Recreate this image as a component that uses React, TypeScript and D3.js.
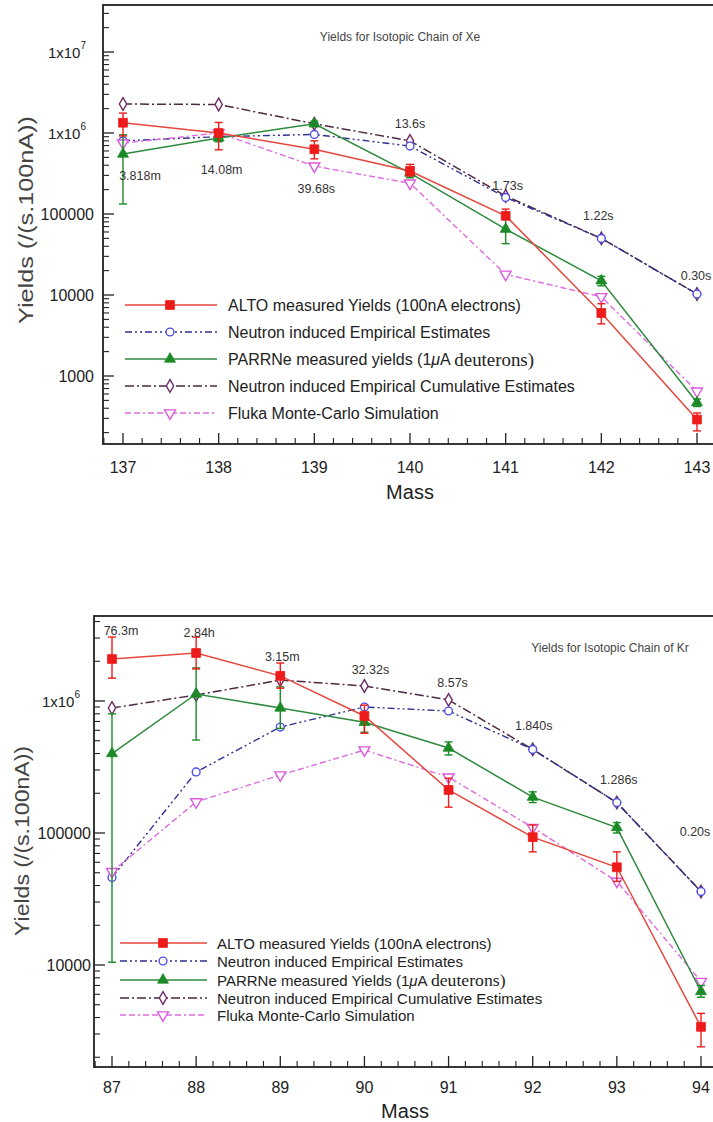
import React, { useEffect } from "react";
import * as d3 from "d3";

// ---------------- Xe chain (top chart) ----------------
const xeMass = [137, 138, 139, 140, 141, 142, 143];
const xeAlto = [1.34e6, 1.0e6, 6.3e5, 3.4e5, 9.5e4, 6.0e3, 290];
const xeAltoLo = [0.92e6, 0.62e6, 4.8e5, 2.95e5, 8.7e4, 4.4e3, 210];
const xeAltoHi = [1.76e6, 1.35e6, 8.0e5, 4.1e5, 1.15e5, 7.8e3, 350];
const xeNeutron = [8.0e5, 9.0e5, 9.6e5, 6.9e5, 1.6e5, 5.0e4, 1.03e4];
const xeParrne = [5.5e5, 8.7e5, 1.3e6, 3.2e5, 6.5e4, 1.5e4, 470];
const xeParrneLo = [1.33e5, 7.8e5, 1.2e6, 2.8e5, 4.3e4, 1.3e4, 420];
const xeParrneHi = [9.5e5, 9.6e5, 1.4e6, 3.7e5, 9.5e4, 1.7e4, 520];
const xeCumulative = [2.28e6, 2.25e6, 1.3e6, 8.0e5, 1.67e5, 5.0e4, 1.03e4];
const xeFluka = [7.5e5, 1.0e6, 3.9e5, 2.4e5, 1.8e4, 9.5e3, 650];
const xeHalfLives = ["3.818m", "14.08m", "39.68s", "13.6s", "1.73s", "1.22s", "0.30s"];
const xeYTicks = [1e3, 1e4, 1e5, 1e6, 1e7];
const xeLegend = [
  "ALTO measured Yields (100nA electrons)",
  "Neutron induced Empirical Estimates",
  "PARRNe measured yields (1μA deuterons)",
  "Neutron induced Empirical Cumulative Estimates",
  "Fluka Monte-Carlo Simulation",
];

// ---------------- Kr chain (bottom chart) ----------------
const krMass = [87, 88, 89, 90, 91, 92, 93, 94];
const krAlto = [2.08e6, 2.31e6, 1.55e6, 7.7e5, 2.12e5, 9.3e4, 5.5e4, 3.4e3];
const krAltoLo = [1.49e6, 1.75e6, 1.25e6, 5.7e5, 1.57e5, 7.2e4, 4.3e4, 2.4e3];
const krAltoHi = [3.05e6, 3.05e6, 1.94e6, 9.3e5, 2.6e5, 1.15e5, 7.2e4, 4.3e3];
const krNeutron = [4.6e4, 2.9e5, 6.35e5, 9.0e5, 8.4e5, 4.3e5, 1.7e5, 3.6e4];
const krParrne = [4.0e5, 1.13e6, 8.85e5, 6.9e5, 4.4e5, 1.87e5, 1.1e5, 6.3e3];
const krParrneLo = [1.05e4, 5.06e5, 6.2e5, 5.8e5, 3.9e5, 1.7e5, 1.0e5, 5.7e3];
const krParrneHi = [8.0e5, 1.78e6, 1.28e6, 8.1e5, 4.9e5, 2.05e5, 1.2e5, 7.0e3];
const krCumulative = [8.85e5, 1.11e6, 1.44e6, 1.3e6, 1.02e6, 4.3e5, 1.7e5, 3.6e4];
const krFluka = [5.1e4, 1.72e5, 2.75e5, 4.25e5, 2.65e5, 1.1e5, 4.3e4, 7.5e3];
const krHalfLives = ["76.3m", "2.84h", "3.15m", "32.32s", "8.57s", "1.840s", "1.286s", "0.20s"];
const krYTicks = [1e4, 1e5, 1e6];
const krLegend = [
  "ALTO measured Yields (100nA electrons)",
  "Neutron induced Empirical Estimates",
  "PARRNe measured Yields (1μA deuterons)",
  "Neutron induced Empirical Cumulative Estimates",
  "Fluka Monte-Carlo Simulation",
];

// ---------------- styles ----------------
const STYLES = {
  alto: { line: "#e5483e", mark: "#ee1b1b", dash: "", marker: "square", width: 1.5 },
  neutron: { line: "#303090", mark: "#4d4de6", dash: "7,3,2,3,2,3", marker: "circle", width: 1.4 },
  parrne: { line: "#2d8a3c", mark: "#1b8a26", dash: "", marker: "triangle", width: 1.5 },
  cumulative: { line: "#4d2840", mark: "#6e2a6a", dash: "9,3,2,3", marker: "diamond", width: 1.5 },
  fluka: { line: "#e06ae0", mark: "#dc5adc", dash: "6,3,6,3,2,3", marker: "triangleDown", width: 1.4 },
};
const LEGEND_KEYS = ["alto", "neutron", "parrne", "cumulative", "fluka"];
const DRAW_ORDER = ["cumulative", "neutron", "fluka", "parrne", "alto"];

const FONT = "'Liberation Sans', Arial, Helvetica, sans-serif";

const symPath = (kind: string) => {
  switch (kind) {
    case "square":
      return d3.symbol().type(d3.symbolSquare).size(78)() as string;
    case "circle":
      return d3.symbol().type(d3.symbolCircle).size(48)() as string;
    case "triangle":
      return d3.symbol().type(d3.symbolTriangle).size(52)() as string;
    case "triangleDown":
      return d3.symbol().type(d3.symbolTriangle).size(52)() as string;
    case "diamond":
      return d3.symbol().type(d3.symbolDiamond).size(46)() as string;
  }
  return "";
};

const Marker = ({ kind, x, y, color }: any) => {
  const filled = kind === "square" || kind === "triangle";
  const rot = kind === "triangleDown" ? " rotate(180)" : "";
  return (
    <path
      d={symPath(kind)}
      transform={`translate(${x},${y})${rot}`}
      fill={filled ? color : "#fff"}
      stroke={color}
      strokeWidth={filled ? 0.8 : 1.4}
    />
  );
};

const LegendLabel = ({ text, x, y, size }: any) => {
  const idx = text.indexOf("(1μA");
  if (idx < 0) {
    return (
      <text x={x} y={y} fontSize={size} fontFamily={FONT} fill="#222" dominantBaseline="central">
        {text}
      </text>
    );
  }
  return (
    <text x={x} y={y} fontSize={size} fontFamily={FONT} fill="#222" dominantBaseline="central">
      {text.slice(0, idx) + "(1"}
      <tspan fontStyle="italic">μ</tspan>
      {"A "}
      <tspan fontFamily="'Liberation Serif', 'Times New Roman', serif" fontSize={size * 1.18}>
        {text.slice(idx + 5)}
      </tspan>
    </text>
  );
};

const Chart = ({ c }: any) => {
  const x = d3.scaleLinear().domain(c.xDomain).range(c.xRange);
  const y = d3.scaleLog().domain(c.yDomain).range(c.yRange);
  const f = c.frame;

  const xLo = x.invert(f.left);
  const xHi = x.invert(Math.min(f.right, 713));
  const xMinor = d3
    .range(Math.ceil(xLo * 5), Math.floor(xHi * 5) + 1)
    .filter((k) => k % 5 !== 0)
    .map((k) => k / 5);

  const vBot = y.invert(f.bottom);
  const vTop = y.invert(f.top);
  const yMinor: number[] = [];
  for (let e = Math.floor(Math.log10(vBot)); e <= Math.ceil(Math.log10(vTop)); e++) {
    for (let m = 2; m <= 9; m++) {
      const v = m * Math.pow(10, e);
      if (v > vBot && v < vTop) yMinor.push(v);
    }
  }

  const line = d3
    .line<[number, number]>()
    .x((d) => x(d[0]))
    .y((d) => y(d[1]));

  const series: any = {
    alto: { v: c.alto, lo: c.altoLo, hi: c.altoHi },
    neutron: { v: c.neutron },
    parrne: { v: c.parrne, lo: c.parrneLo, hi: c.parrneHi },
    cumulative: { v: c.cumulative },
    fluka: { v: c.fluka },
  };

  const L = c.legend;

  return (
    <g>
      {/* frame */}
      <rect x={f.left} y={f.top} width={f.right - f.left} height={f.bottom - f.top} fill="none" stroke="#222" strokeWidth={1.8} />

      {/* x ticks */}
      {c.mass.map((m: number) => (
        <line key={"xm" + m} x1={x(m)} x2={x(m)} y1={f.bottom} y2={f.bottom - 11} stroke="#222" strokeWidth={1.3} />
      ))}
      {xMinor.map((m) => (
        <line key={"xn" + m} x1={x(m)} x2={x(m)} y1={f.bottom} y2={f.bottom - 6} stroke="#222" strokeWidth={1.1} />
      ))}
      {c.mass.map((m: number) => (
        <text key={"xl" + m} x={x(m)} y={c.xTickY} textAnchor="middle" dominantBaseline="central" fontSize={16} fontFamily={FONT} fill="#222">
          {m}
        </text>
      ))}
      <text x={c.xLabel[0]} y={c.xLabel[1]} textAnchor="middle" dominantBaseline="central" fontSize={20} fontFamily={FONT} fill="#222">
        Mass
      </text>

      {/* y ticks */}
      {c.yTicks.map((v: number) => (
        <line key={"ym" + v} x1={f.left} x2={f.left + 11} y1={y(v)} y2={y(v)} stroke="#222" strokeWidth={1.3} />
      ))}
      {yMinor.map((v) => (
        <line key={"yn" + v} x1={f.left} x2={f.left + 6} y1={y(v)} y2={y(v)} stroke="#222" strokeWidth={1.1} />
      ))}
      {c.yTicks.map((v: number) => {
        const e = Math.round(Math.log10(v));
        if (v >= 1e6) {
          return (
            <text key={"yl" + v} x={c.sciLabelX} y={y(v)} textAnchor="end" dominantBaseline="central" fontSize={15} fontFamily={FONT} fill="#222">
              1x10
              <tspan fontSize={10} dy={-7}>
                {e}
              </tspan>
            </text>
          );
        }
        return (
          <text key={"yl" + v} x={c.yLabelX} y={y(v)} textAnchor="end" dominantBaseline="central" fontSize={16} fontFamily={FONT} fill="#222">
            {String(v)}
          </text>
        );
      })}
      <text
        transform={`translate(${c.yTitle[0]},${c.yTitle[1]}) rotate(-90)`}
        textAnchor="middle"
        dominantBaseline="central"
        fontSize={20}
        fontFamily={FONT}
        fill="#444"
        textLength={c.yTitle[2]}
        lengthAdjust="spacingAndGlyphs"
      >
        Yields (/(s.100nA))
      </text>

      {/* title */}
      <text x={c.title[0]} y={c.title[1]} textAnchor="middle" dominantBaseline="central" fontSize={12} fontFamily={FONT} fill="#444">
        {c.titleText}
      </text>

      {/* series */}
      {DRAW_ORDER.map((key) => {
        const s = series[key];
        const st = (STYLES as any)[key];
        const pts: [number, number][] = c.mass.map((m: number, i: number) => [m, s.v[i]]);
        return (
          <g key={key}>
            <path d={line(pts) as string} fill="none" stroke={st.line} strokeWidth={st.width} strokeDasharray={st.dash || undefined} />
            {s.lo &&
              c.mass.map((m: number, i: number) => {
                const xx = x(m);
                const y1 = y(s.lo[i]);
                const y2 = y(s.hi[i]);
                return (
                  <g key={"e" + m} stroke={st.mark} strokeWidth={1.4}>
                    <line x1={xx} x2={xx} y1={y1} y2={y2} />
                    <line x1={xx - 4} x2={xx + 4} y1={y1} y2={y1} />
                    <line x1={xx - 4} x2={xx + 4} y1={y2} y2={y2} />
                  </g>
                );
              })}
            {pts.map((p, i) => (
              <Marker key={i} kind={st.marker} x={x(p[0])} y={y(p[1])} color={st.mark} />
            ))}
          </g>
        );
      })}

      {/* half-life labels */}
      {c.halfLives.map((t: string, i: number) => (
        <text
          key={"hl" + i}
          x={x(c.mass[i]) + c.hlOffsets[i][0]}
          y={y(c.cumulative[i]) + c.hlOffsets[i][1]}
          textAnchor="middle"
          dominantBaseline="central"
          fontSize={12.5}
          fontFamily={FONT}
          fill="#333"
        >
          {t}
        </text>
      ))}

      {/* legend */}
      {LEGEND_KEYS.map((key, i) => {
        const st = (STYLES as any)[key];
        const yy = L.rows[i];
        return (
          <g key={"lg" + key}>
            <line x1={L.x0} x2={L.x1} y1={yy} y2={yy} stroke={st.line} strokeWidth={st.width} strokeDasharray={st.dash || undefined} />
            <Marker kind={st.marker} x={L.xm} y={yy} color={st.mark} />
            <LegendLabel text={c.legendText[i]} x={L.xt} y={yy} size={L.size} />
          </g>
        );
      })}
    </g>
  );
};

const xeConfig = {
  mass: xeMass,
  alto: xeAlto,
  altoLo: xeAltoLo,
  altoHi: xeAltoHi,
  neutron: xeNeutron,
  parrne: xeParrne,
  parrneLo: xeParrneLo,
  parrneHi: xeParrneHi,
  cumulative: xeCumulative,
  fluka: xeFluka,
  halfLives: xeHalfLives,
  hlOffsets: [[17, 72], [3, 66], [2, 65], [0, -17], [2, -10], [-3, -22], [-1, -18]],
  yTicks: xeYTicks,
  legendText: xeLegend,
  titleText: "Yields for Isotopic Chain of Xe",
  frame: { left: 103, top: 5, right: 730, bottom: 444 },
  xDomain: [137, 143],
  xRange: [123, 697],
  yDomain: [1e3, 1e7],
  yRange: [376, 52],
  xTickY: 467,
  xLabel: [410, 492],
  yLabelX: 94,
  sciLabelX: 86,
  yTitle: [26, 220, 208],
  title: [400, 37],
  legend: { rows: [305, 332, 359, 386, 413], x0: 125, x1: 217, xm: 170, xt: 228, size: 16 },
};

const krConfig = {
  mass: krMass,
  alto: krAlto,
  altoLo: krAltoLo,
  altoHi: krAltoHi,
  neutron: krNeutron,
  parrne: krParrne,
  parrneLo: krParrneLo,
  parrneHi: krParrneHi,
  cumulative: krCumulative,
  fluka: krFluka,
  halfLives: krHalfLives,
  hlOffsets: [[9, -77], [3, -62], [2, -23], [6, -16], [4, -17], [1, -23], [2, -23], [-6, -60]],
  yTicks: krYTicks,
  legendText: krLegend,
  titleText: "Yields for Isotopic Chain of Kr",
  frame: { left: 94, top: 616, right: 730, bottom: 1067 },
  xDomain: [87, 94],
  xRange: [112, 701],
  yDomain: [1e4, 1e6],
  yRange: [965, 701],
  xTickY: 1087,
  xLabel: [405, 1111],
  yLabelX: 91,
  sciLabelX: 80,
  yTitle: [22, 841, 190],
  title: [610, 648],
  legend: { rows: [943, 961, 980, 998, 1015], x0: 120, x1: 207, xm: 163, xt: 217, size: 15 },
};

export default function App() {
  useEffect(() => {
    document.body.style.margin = "0";
  }, []);
  return (
    <div style={{ position: "absolute", left: 0, top: 0 }}>
      <svg width={713} height={1122} style={{ display: "block", background: "#fff" }}>
        <Chart c={xeConfig} />
        <Chart c={krConfig} />
      </svg>
    </div>
  );
}
